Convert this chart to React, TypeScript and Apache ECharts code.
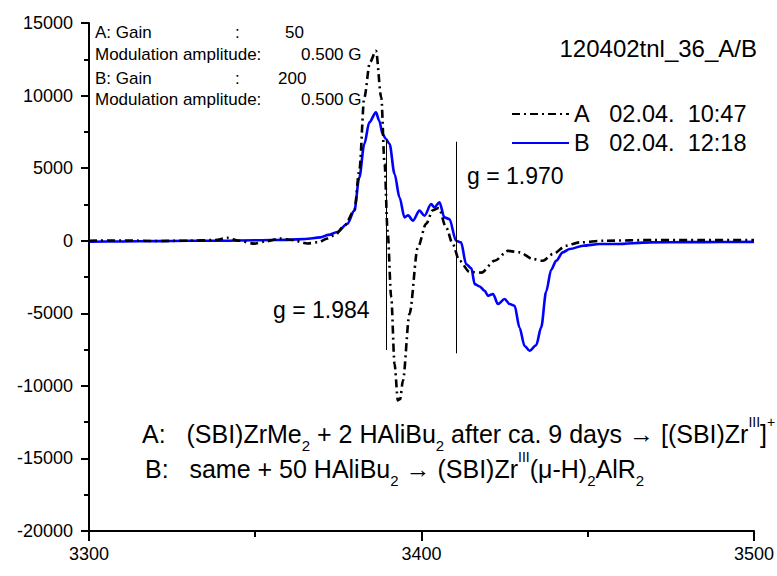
import React, { useEffect, useRef } from "react";
import * as echarts from "echarts";

// Magnetic field (G) and signal for trace A (dash-dot black)
const fieldA = [3300, 3310, 3320, 3330, 3338, 3341.6, 3345, 3349.7, 3353, 3357.5, 3361, 3365.7, 3369, 3371.7, 3374, 3376.8, 3379.8, 3381.3, 3382.8, 3384.5, 3386.3, 3387.9, 3388.9, 3389.8, 3390.9, 3391.9, 3392.9, 3393.6, 3394.4, 3396.4, 3398.9, 3401.4, 3403.4, 3405.2, 3407.4, 3409.4, 3411.4, 3414.5, 3418, 3422, 3426, 3429.5, 3433.5, 3436.5, 3439.5, 3443.5, 3447.6, 3455, 3470, 3485, 3500];
const signalA = [0, 20, -20, 0, 50, 200, 0, -200, -50, 150, 50, -190, -100, 150, 400, 1030, 2070, 4820, 9870, 12300, 13090, 9870, 5300, 690, -3900, -8500, -11000, -10900, -9650, -5030, -460, 1170, 2100, 2250, 920, -230, -1380, -2150, -2200, -1380, -700, -800, -1260, -1380, -920, -345, -115, 0, 50, 40, 50];

// Trace B (solid blue)
const fieldB = [3300, 3310, 3320, 3330, 3340, 3350, 3360, 3365, 3369.6, 3372, 3374.7, 3377.7, 3379.8, 3381.3, 3382.8, 3384.3, 3386.3, 3387.3, 3388.3, 3389.3, 3390.4, 3391.9, 3393.4, 3394.9, 3396.0, 3397.4, 3399.4, 3400.9, 3402.9, 3403.9, 3405.4, 3406.9, 3408.4, 3410.4, 3411.9, 3413.4, 3415, 3416, 3417.5, 3419, 3420, 3421.5, 3423, 3425, 3426.5, 3428, 3429.5, 3431, 3432.5, 3434.5, 3436, 3437.5, 3439, 3440.5, 3442.5, 3444.6, 3448.6, 3453.6, 3458.6, 3468.7, 3480, 3490, 3500];
const signalB = [-70, -50, -30, 0, 0, 30, 60, 120, 230, 400, 600, 1170, 2070, 4360, 6660, 8150, 8840, 8270, 7350, 7010, 6660, 4600, 2980, 1610, 1750, 1380, 2070, 1720, 2530, 2300, 2640, 1610, 1490, 0, -115, -1600, -1900, -2990, -3150, -3450, -3800, -3670, -4360, -4020, -4360, -4480, -6000, -7250, -7580, -7200, -5970, -3500, -2000, -1380, -800, -570, -345, -230, -230, -115, -100, -90, -80];

// g-value marker lines
const gLineField = [3389.3, 3410.4];
const gLineTop = [6940, 6820];
const gLineBottom = [-7530, -7760];

// Axis ticks
const xTicks = { min: 3300, max: 3500, interval: 100 };
const yTicks = { min: -20000, max: 15000, interval: 5000 };

const nameA = "A\u00a0\u00a0\u00a002.04.\u00a0\u00a010:47";
const nameB = "B\u00a0\u00a0\u00a002.04.\u00a0\u00a012:18";

const FONT = "'Liberation Sans', Arial, sans-serif";

export default function App() {
  const ref = useRef<HTMLDivElement>(null);
  useEffect(() => {
    if (!ref.current) return;
    const chart = echarts.init(ref.current, undefined, { renderer: "svg" });
    const pairsA = fieldA.map((x, i) => [x, signalA[i]]);
    const pairsB = fieldB.map((x, i) => [x, signalB[i]]);
    const gLines = gLineField.map((x, i) => [
      { coord: [x, gLineTop[i]] },
      { coord: [x, gLineBottom[i]] },
    ]);
    const nb = (s: string) => s.replace(/ /g, "\u00a0");
    const baseRich = (color: string) => ({
      n: { fontSize: 25, color, fontFamily: FONT, lineHeight: 38, verticalAlign: "middle" },
      sub: { fontSize: 15, color, fontFamily: FONT, lineHeight: 15, verticalAlign: "bottom" },
      sup: { fontSize: 14, color, fontFamily: FONT, lineHeight: 15, verticalAlign: "top" },
    });
    chart.setOption({
      animation: false,
      backgroundColor: "#fff",
      textStyle: { fontFamily: FONT },
      grid: { left: 89, right: 23, top: 23, bottom: 45 },
      legend: {
        data: [nameA, nameB],
        orient: "vertical",
        left: 506,
        top: 97,
        itemWidth: 57,
        itemHeight: 14,
        itemGap: 5,
        itemStyle: { opacity: 0 },
        textStyle: { fontSize: 23.5, color: "#000", fontFamily: FONT },
        selectedMode: false,
      },
      xAxis: {
        type: "value",
        min: xTicks.min,
        max: xTicks.max,
        interval: xTicks.interval,
        axisLine: { show: true, onZero: false, lineStyle: { color: "#000", width: 2 } },
        axisTick: { show: true, inside: false, length: 10, lineStyle: { color: "#000", width: 2 } },
        minorTick: { show: true, splitNumber: 2, length: 6, lineStyle: { color: "#000", width: 2 } },
        splitLine: { show: false },
        axisLabel: { fontSize: 18, color: "#000", margin: 14, fontFamily: FONT, formatter: (v: number) => String(v) },
      },
      yAxis: {
        type: "value",
        min: yTicks.min,
        max: yTicks.max,
        interval: yTicks.interval,
        axisLine: { show: true, onZero: false, lineStyle: { color: "#000", width: 2 } },
        axisTick: { show: true, inside: false, length: 8, lineStyle: { color: "#000", width: 2 } },
        minorTick: { show: true, splitNumber: 2, length: 5, lineStyle: { color: "#000", width: 2 } },
        splitLine: { show: false },
        axisLabel: { fontSize: 18, color: "#000", margin: 16, fontFamily: FONT, formatter: (v: number) => String(v) },
      },
      series: [
        {
          name: nameA,
          type: "line",
          data: pairsA,
          showSymbol: false,
          symbol: "none",
          smooth: 0.3,
          smoothMonotone: "x",
          z: 3,
          lineStyle: { color: "#000", width: 2.6, type: [8, 4, 2, 4] },
          itemStyle: { color: "#000" },
        },
        {
          name: nameB,
          type: "line",
          data: pairsB,
          showSymbol: false,
          symbol: "none",
          smooth: 0.3,
          smoothMonotone: "x",
          z: 2,
          lineStyle: { color: "#0000ff", width: 2.6, type: "solid" },
          itemStyle: { color: "#0000ff" },
          markLine: {
            silent: true,
            symbol: ["none", "none"],
            label: { show: false },
            lineStyle: { color: "#000", width: 1, type: "solid" },
            data: gLines,
          },
        },
      ],
      graphic: [
        { type: "text", left: 95, top: 24, style: { text: "A: Gain", fontSize: 17, fill: "#000", fontFamily: FONT } },
        { type: "text", left: 235, top: 24, style: { text: ":", fontSize: 17, fill: "#000", fontFamily: FONT } },
        { type: "text", left: 285, top: 24, style: { text: "50", fontSize: 17, fill: "#000", fontFamily: FONT } },
        { type: "text", left: 95, top: 46, style: { text: "Modulation amplitude:", fontSize: 17, fill: "#000", fontFamily: FONT } },
        { type: "text", left: 301, top: 46, style: { text: "0.500 G", fontSize: 17, fill: "#000", fontFamily: FONT } },
        { type: "text", left: 95, top: 70, style: { text: "B: Gain", fontSize: 17, fill: "#000", fontFamily: FONT } },
        { type: "text", left: 235, top: 70, style: { text: ":", fontSize: 17, fill: "#000", fontFamily: FONT } },
        { type: "text", left: 278, top: 70, style: { text: "200", fontSize: 17, fill: "#000", fontFamily: FONT } },
        { type: "text", left: 95, top: 91, style: { text: "Modulation amplitude:", fontSize: 17, fill: "#000", fontFamily: FONT } },
        { type: "text", left: 301, top: 91, style: { text: "0.500 G", fontSize: 17, fill: "#000", fontFamily: FONT } },
        { type: "text", right: 20, top: 36, style: { text: "120402tnl_36_A/B", fontSize: 24, fill: "#000", fontFamily: FONT } },
        { type: "text", left: 467, top: 164, style: { text: "g = 1.970", fontSize: 23, fill: "#000", fontFamily: FONT } },
        { type: "text", left: 273, top: 298, style: { text: "g = 1.984", fontSize: 23, fill: "#000", fontFamily: FONT } },
        {
          type: "text",
          left: 142,
          top: 415,
          style: {
            text:
              "{n|" + nb("A:   (SBI)ZrMe") + "}{sub|2}{n|" + nb(" + 2 HAliBu") + "}{sub|2}{n|" +
              nb(" after ca. 9 days ") + "}{n|→}{n|" + nb(" [(SBI)Zr") + "}{sup|III}{n|]}{sup|+}",
            rich: baseRich("#000"),
          },
        },
        {
          type: "text",
          left: 145,
          top: 450,
          style: {
            text:
              "{n|" + nb("B:   same + 50 HAliBu") + "}{sub|2}{n|" + nb(" → (SBI)Zr") + "}{sup|III}{n|(μ-H)}{sub|2}{n|AlR}{sub|2}",
            rich: baseRich("#0000ff"),
          },
        },
      ],
    });
    return () => chart.dispose();
  }, []);
  return <div ref={ref} style={{ width: 777, height: 576, position: "absolute", left: 0, top: 0 }} />;
}
